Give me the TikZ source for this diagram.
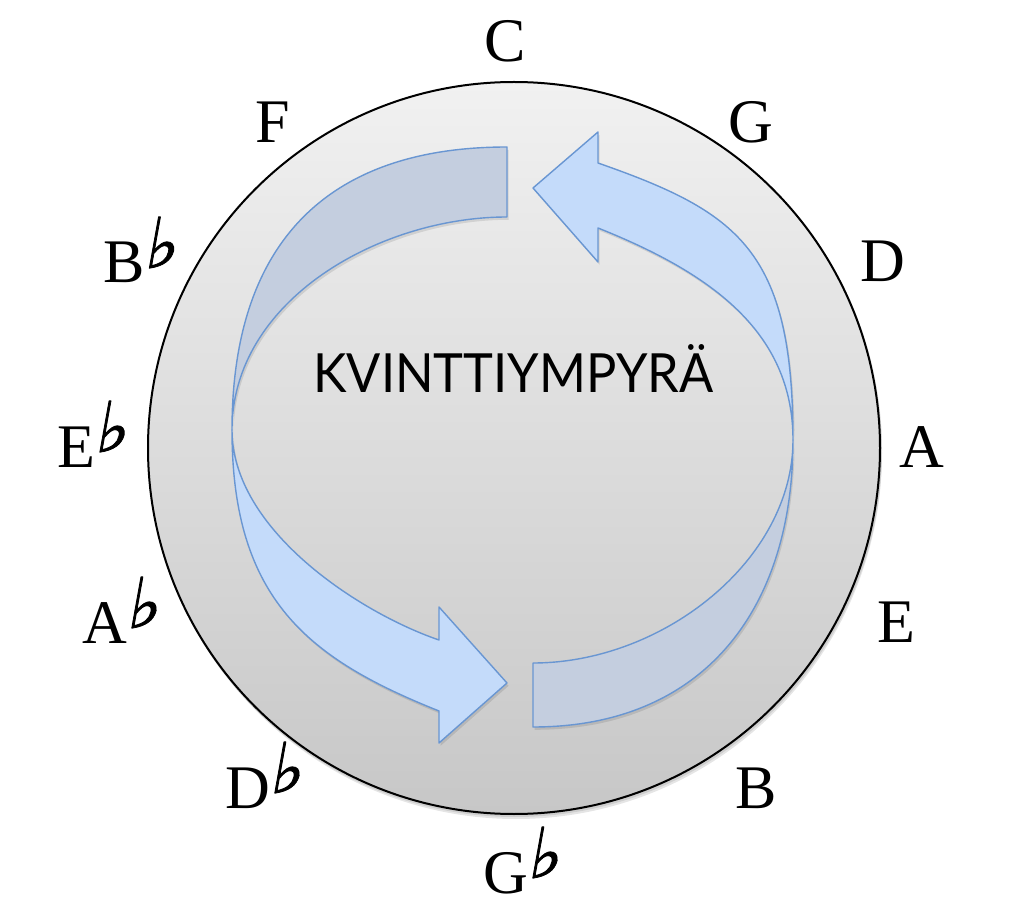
\documentclass[tikz,border=0pt]{standalone}
\usepackage{fontspec}
\usepackage{graphicx}
\setmainfont{Liberation Serif}
\newfontfamily\flatfont[FakeSlant=0.18, FakeBold=1.2]{DejaVu Sans}
\newfontfamily\titlefont{Lato}
\newcommand\flt{\kern-0.8pt\raisebox{7.5pt}{\flatfont\fontsize{35}{35}\selectfont ♭}}
\definecolor{topgray}{RGB}{241,241,241}
\definecolor{botgray}{RGB}{199,199,199}
\definecolor{arrowline}{RGB}{105,150,210}
\definecolor{backfill}{RGB}{196,206,223}
\definecolor{frontfill}{RGB}{196,219,250}
\tikzset{
  note/.style={anchor=base west, inner sep=0pt, font=\fontsize{31}{31}\selectfont},
  arrowshadow/.style={preaction={fill=black, fill opacity=0.10, transform canvas={shift={(0.8pt,-1.4pt)}}}},
  backpart/.style={arrowshadow, fill=backfill, draw=arrowline, line width=0.7pt, line join=round},
  frontpart/.style={arrowshadow, fill=frontfill, draw=arrowline, line width=0.7pt, line join=round},
}
\begin{document}
\begin{tikzpicture}[x=0.5pt, y=-0.5pt]
\useasboundingbox (0,0) rectangle (1024,909);
% circle shadow and circle
\fill[black, opacity=0.10] (516,453) circle[radius=366];
\fill[black, opacity=0.10] (515,450) circle[radius=367];
\shade[top color=topgray, bottom color=botgray, draw=black, line width=1pt] (514,448) circle[radius=366];
\coordinate (ctr) at (514,448);
% left arrow: upper back part
\path[backpart] (507,147) .. controls (330,147) and (232,240) .. (232,430)
   .. controls (232,300) and (380,217) .. (507,217) -- cycle;
% right arrow: lower back part
\path[backpart] (533,727) .. controls (703,727) and (793,610) .. (793,440)
   .. controls (793,560) and (663,663) .. (533,663) -- cycle;
% left arrow: lower front part with head
\path[frontpart] (232,430) .. controls (232,600) and (309,659) .. (439,711)
   -- (439,743) -- (507,683) -- (439,607) -- (439,640)
   .. controls (360,613) and (232,530) .. (232,430) -- cycle;
% right arrow: upper front part with head
\path[frontpart] (793,440) .. controls (793,250) and (738,212) .. (598,163)
   -- (598,132) -- (533,188) -- (598,262) -- (598,228)
   .. controls (708,272) and (793,330) .. (793,440) -- cycle;
% title
\node[anchor=south west, inner sep=0pt] (title) at (313,393)
  {\resizebox{200pt}{24pt}{\titlefont KVINTTIYMPYRÄ}};
% notes
\node[note] (C)  at (484,62)  {C};
\node[note] (G)  at (728,143) {G};
\node[note] (D)  at (860,282) {D};
\node[note] (A)  at (899,467) {A};
\node[note] (E)  at (877,642) {E};
\node[note] (B)  at (735,808) {B};
\node[note] (Gb) at (483,893) {G\flt};
\node[note] (Db) at (225,808) {D\flt};
\node[note] (Ab) at (82,643)  {A\flt};
\node[note] (Eb) at (57,467)  {E\flt};
\node[note] (Bb) at (103,283) {B\flt};
\node[note] (F)  at (255,143) {F};
\end{tikzpicture}
\end{document}
